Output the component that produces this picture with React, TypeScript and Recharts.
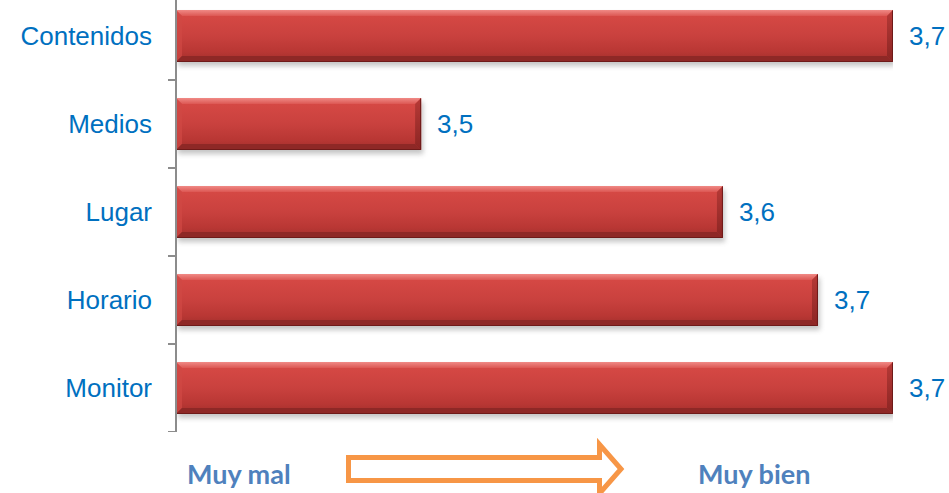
import React from 'react';
import { BarChart, Bar, XAxis, YAxis, LabelList } from 'recharts';

const categories = ['Contenidos', 'Medios', 'Lugar', 'Horario', 'Monitor'];
const values = [3.74, 3.457, 3.638, 3.695, 3.74];
const axisDomain: [number, number] = [3.31, 3.74];
const scaleLow = 'Muy mal';
const scaleHigh = 'Muy bien';

const data = categories.map((name, i) => ({ name, value: values[i] }));

const LABEL_BLUE = '#0070C0';
const AXIS_GRAY = '#8C8C8C';

const fmt = (v: any) => Number(v).toFixed(1).replace('.', ',');

const CategoryTick = (props: any) => {
  const { x, y, payload } = props;
  const off = payload && payload.offset != null ? payload.offset : 44;
  const axisX = x + 24;
  return (
    <g>
      <text
        x={x}
        y={y}
        textAnchor="end"
        dominantBaseline="central"
        fill={LABEL_BLUE}
        fontFamily="'Liberation Sans', Arial, sans-serif"
        fontSize={26}
      >
        {payload.value}
      </text>
      <line x1={axisX - 8} x2={axisX} y1={y + off} y2={y + off} stroke={AXIS_GRAY} strokeWidth={2} />
    </g>
  );
};

const BevelBar = (props: any) => {
  const { x, y, width, height } = props;
  if (!width || width <= 0) return null;
  const b = 6;
  const w = width;
  const h = height;
  return (
    <g>
      <rect x={x + 2} y={y + 4} width={w} height={h} fill="#7f7f7f" opacity={0.45} filter="url(#barShadow)" />
      <rect x={x} y={y} width={w} height={h} fill="url(#barGrad)" />
      <polygon
        points={`${x},${y} ${x + w},${y} ${x + w - b},${y + b} ${x + b},${y + b}`}
        fill="url(#topBevel)"
      />
      <polygon
        points={`${x},${y} ${x + b},${y + b} ${x + b},${y + h - b} ${x},${y + h}`}
        fill="#D04945"
        opacity={0.7}
      />
      <polygon
        points={`${x + w},${y} ${x + w},${y + h} ${x + w - b},${y + h - b} ${x + w - b},${y + b}`}
        fill="url(#rightBevel)"
      />
      <polygon
        points={`${x},${y + h} ${x + w},${y + h} ${x + w - b},${y + h - b} ${x + b},${y + h - b}`}
        fill="#8E2826"
      />
      <path
        d={`M${x + w - 0.5},${y + 0.5} L${x + w - 0.5},${y + h - 0.5} L${x},${y + h - 0.5}`}
        fill="none"
        stroke="#6E1A19"
        strokeWidth={1}
      />
    </g>
  );
};

export default function App() {
  return (
    <div style={{ position: 'fixed', left: 0, top: 0, width: 949, height: 493, overflow: 'hidden', background: '#fff' }}>
      <div style={{ position: 'absolute', left: 0, top: -8 }}>
        <BarChart
          width={949}
          height={440}
          data={data}
          layout="vertical"
          margin={{ top: 0, right: 56, bottom: 0, left: 0 }}
          barSize={52}
        >
          <defs>
            <linearGradient id="barGrad" x1="0" y1="0" x2="0" y2="1">
              <stop offset="0%" stopColor="#E2605C" />
              <stop offset="12%" stopColor="#D54844" />
              <stop offset="50%" stopColor="#C9413E" />
              <stop offset="80%" stopColor="#B93734" />
              <stop offset="100%" stopColor="#A12F2C" />
            </linearGradient>
            <linearGradient id="topBevel" x1="0" y1="0" x2="0" y2="1">
              <stop offset="0%" stopColor="#F08A86" />
              <stop offset="100%" stopColor="#DC5753" />
            </linearGradient>
            <linearGradient id="rightBevel" x1="0" y1="0" x2="0" y2="1">
              <stop offset="0%" stopColor="#B73A37" />
              <stop offset="100%" stopColor="#8B2523" />
            </linearGradient>
            <filter id="barShadow" x="-5%" y="-30%" width="110%" height="160%">
              <feGaussianBlur stdDeviation="2.5" />
            </filter>
          </defs>
          <XAxis type="number" domain={axisDomain} hide allowDataOverflow />
          <YAxis
            type="category"
            dataKey="name"
            width={176}
            axisLine={{ stroke: AXIS_GRAY, strokeWidth: 2 }}
            tickLine={false}
            tickSize={8}
            tickMargin={16}
            tick={<CategoryTick />}
            interval={0}
          />
          <Bar dataKey="value" shape={<BevelBar />} isAnimationActive={false}>
            <LabelList
              dataKey="value"
              position="right"
              offset={16}
              formatter={fmt}
              fill={LABEL_BLUE}
              fontFamily="'Liberation Sans', Arial, sans-serif"
              fontSize={26}
            />
          </Bar>
        </BarChart>
      </div>
      <svg
        width={949}
        height={493}
        style={{ position: 'absolute', left: 0, top: 0, pointerEvents: 'none' }}
      >
        <text x={187} y={484} fill="#4F81BD" fontFamily="Lato, 'Open Sans', sans-serif" fontWeight={700} fontSize={27}>
          {scaleLow}
        </text>
        <polygon
          points="348.5,457.5 599.5,457.5 599.5,444.5 621,469 599.5,493.5 599.5,480.5 348.5,480.5"
          fill="none"
          stroke="#F79646"
          strokeWidth={5}
          strokeLinejoin="miter"
        />
        <text x={698} y={484} fill="#4F81BD" fontFamily="Lato, 'Open Sans', sans-serif" fontWeight={700} fontSize={27}>
          {scaleHigh}
        </text>
      </svg>
    </div>
  );
}
